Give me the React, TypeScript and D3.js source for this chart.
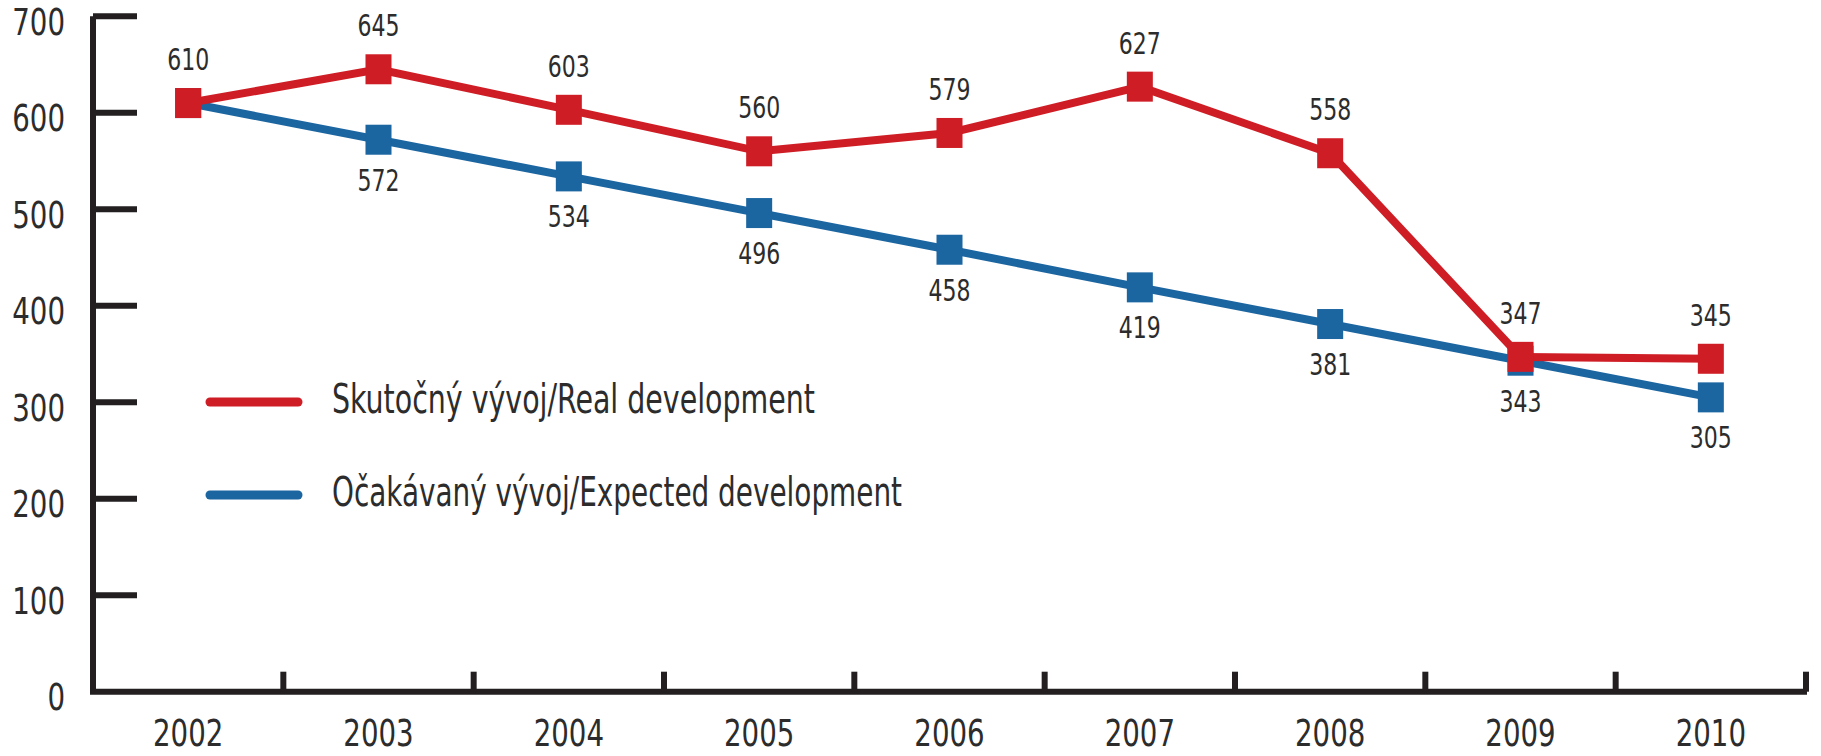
import React from "react";
import * as d3 from "d3";

const years = ["2002", "2003", "2004", "2005", "2006", "2007", "2008", "2009", "2010"];
const realValues = [610, 645, 603, 560, 579, 627, 558, 347, 345];
const expectedValues = [610, 572, 534, 496, 458, 419, 381, 343, 305];
const yTicks = [0, 100, 200, 300, 400, 500, 600, 700];
const legendLabels = ["Skutočný vývoj/Real development", "Očakávaný vývoj/Expected development"];

const W = 1821;
const H = 756;
const RED = "#cf1d25";
const BLUE = "#1b65a1";
const TEXT = "#2c2c2c";
const FONT = "'DejaVu Sans Condensed', 'DejaVu Sans', sans-serif";

function NText(props: { x: number; y: number; sx: number; size: number; anchor: string; children: React.ReactNode }) {
  return (
    <text
      transform={`translate(${props.x},${props.y}) scale(${props.sx},1)`}
      textAnchor={props.anchor as any}
      dominantBaseline="middle"
      fontSize={props.size}
      fill={TEXT}
    >
      {props.children}
    </text>
  );
}

export default function App() {
  const x = d3.scaleBand<string>().domain(years).range([93, 1806]).padding(0);
  const y = d3.scaleLinear().domain([0, 700]).range([691.7, 16.2]);
  const cx = (yr: string) => (x(yr) as number) + x.bandwidth() / 2;

  const line = d3
    .line<number>()
    .x((_, i) => cx(years[i]))
    .y((v) => y(v));

  const boundaries = years.map((yr) => (x(yr) as number) + x.bandwidth());
  const mw = 26;
  const mh = 30;

  return (
    <svg width={W} height={H} style={{ position: "absolute", left: 0, top: 0, background: "#fff" }} fontFamily={FONT}>
      {/* axes */}
      <g stroke="#231f20" strokeWidth={6} fill="none" strokeLinecap="butt">
        <path d={`M${93},${y(700)} V${y(0)} H${1807}`} strokeLinejoin="miter" />
        {yTicks.slice(1).map((t) => (
          <line key={t} x1={93} x2={137} y1={y(t)} y2={y(t)} />
        ))}
        {boundaries.map((bx, i) => (
          <line key={i} x1={bx} x2={bx} y1={y(0)} y2={y(0) - 20} />
        ))}
      </g>
      {/* y labels */}
      {yTicks.map((t) => (
        <NText key={t} x={65} y={y(t) + 8} sx={0.83} size={37} anchor="end">
          {t}
        </NText>
      ))}
      {/* x labels */}
      {years.map((yr) => (
        <NText key={yr} x={cx(yr)} y={736} sx={0.83} size={37} anchor="middle">
          {yr}
        </NText>
      ))}
      {/* expected series */}
      <path d={line(expectedValues) as string} fill="none" stroke={BLUE} strokeWidth={8} />
      {expectedValues.map((v, i) => (
        <rect key={i} x={cx(years[i]) - mw / 2} y={y(v) - mh / 2} width={mw} height={mh} fill={BLUE} />
      ))}
      {/* real series */}
      <path d={line(realValues) as string} fill="none" stroke={RED} strokeWidth={8} />
      {realValues.map((v, i) => (
        <rect key={i} x={cx(years[i]) - mw / 2} y={y(v) - mh / 2} width={mw} height={mh} fill={RED} />
      ))}
      {/* data labels */}
      {realValues.map((v, i) => (
        <NText key={"r" + i} x={cx(years[i])} y={y(v) - 42} sx={0.79} size={31} anchor="middle">
          {v}
        </NText>
      ))}
      {expectedValues.map((v, i) =>
        i === 0 ? null : (
          <NText key={"b" + i} x={cx(years[i])} y={y(v) + 42} sx={0.79} size={31} anchor="middle">
            {v}
          </NText>
        )
      )}
      {/* legend */}
      <line x1={210} x2={298} y1={402} y2={402} stroke={RED} strokeWidth={9} strokeLinecap="round" />
      <text x={332} y={413} fontSize={40} fill={TEXT} textLength={483} lengthAdjust="spacingAndGlyphs">
        {legendLabels[0]}
      </text>
      <line x1={210} x2={298} y1={495} y2={495} stroke={BLUE} strokeWidth={9} strokeLinecap="round" />
      <text x={332} y={506} fontSize={40} fill={TEXT} textLength={570} lengthAdjust="spacingAndGlyphs">
        {legendLabels[1]}
      </text>
    </svg>
  );
}
